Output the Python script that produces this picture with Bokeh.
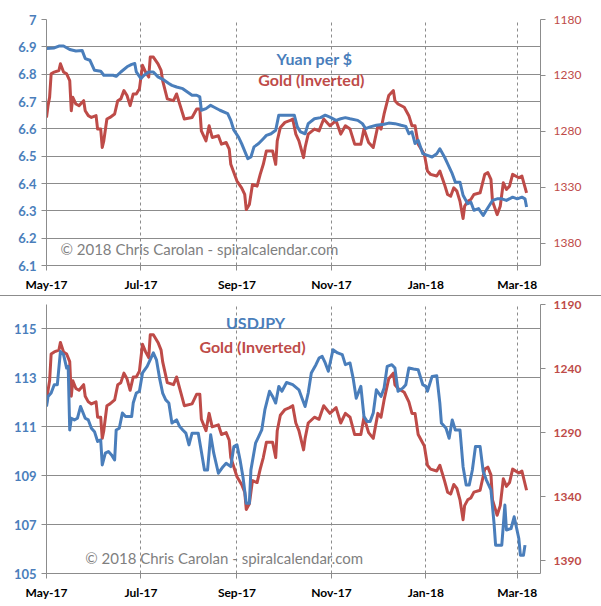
import pandas as pd
from bokeh.plotting import figure
from bokeh.models import Range1d, LinearAxis, FixedTicker, DatetimeTickFormatter, Label
from bokeh.layouts import column
from bokeh.embed import file_html
from bokeh.resources import INLINE

# ---------------- data ----------------
yuan_dates = ["2017-05-01","2017-05-06","2017-05-09","2017-05-12","2017-05-16","2017-05-20","2017-05-24","2017-05-26","2017-05-29","2017-06-01",
              "2017-06-05","2017-06-07","2017-06-13","2017-06-15","2017-06-18","2017-06-22","2017-06-25","2017-06-27","2017-06-28","2017-07-01",
              "2017-07-03","2017-07-06","2017-07-09","2017-07-12","2017-07-16","2017-07-19","2017-07-21","2017-07-24","2017-07-28","2017-07-31",
              "2017-08-03","2017-08-06","2017-08-08","2017-08-09","2017-08-12","2017-08-15","2017-08-17","2017-08-21","2017-08-26","2017-08-28",
              "2017-08-30","2017-09-02","2017-09-04","2017-09-08","2017-09-10","2017-09-12","2017-09-15","2017-09-18","2017-09-20","2017-09-23",
              "2017-09-26","2017-09-28","2017-10-08","2017-10-10","2017-10-12","2017-10-15","2017-10-17","2017-10-21","2017-10-25","2017-10-28",
              "2017-10-31","2017-11-04","2017-11-07","2017-11-10","2017-11-13","2017-11-18","2017-11-21","2017-11-23","2017-11-26","2017-11-30",
              "2017-12-05","2017-12-08","2017-12-12","2017-12-16","2017-12-19","2017-12-21","2017-12-23","2017-12-25","2017-12-27","2017-12-30",
              "2018-01-02","2018-01-05","2018-01-08","2018-01-10","2018-01-13","2018-01-15","2018-01-18","2018-01-20","2018-01-23","2018-01-25",
              "2018-01-28","2018-01-30","2018-02-01","2018-02-04","2018-02-07","2018-02-09","2018-02-13","2018-02-16","2018-02-19","2018-02-22",
              "2018-02-26","2018-03-01","2018-03-04","2018-03-06","2018-03-07"]
yuan_values = [6.894,6.896,6.903,6.903,6.890,6.885,6.887,6.857,6.851,6.814,
               6.811,6.796,6.796,6.792,6.808,6.827,6.836,6.839,6.808,6.784,
               6.796,6.808,6.808,6.790,6.778,6.766,6.759,6.753,6.747,6.735,
               6.723,6.723,6.717,6.668,6.674,6.686,6.680,6.668,6.656,6.631,
               6.595,6.570,6.546,6.491,6.497,6.534,6.546,6.564,6.576,6.582,
               6.595,6.650,6.650,6.607,6.589,6.582,6.619,6.637,6.641,6.650,
               6.643,6.631,6.637,6.641,6.637,6.631,6.619,6.601,6.607,6.613,
               6.617,6.621,6.619,6.613,6.609,6.582,6.589,6.546,6.558,6.509,
               6.503,6.497,6.509,6.527,6.497,6.473,6.436,6.405,6.405,6.357,
               6.326,6.332,6.302,6.308,6.283,6.302,6.338,6.344,6.344,6.338,
               6.350,6.344,6.350,6.344,6.314]

usdjpy_dates = ["2017-05-01","2017-05-02","2017-05-04","2017-05-06","2017-05-08","2017-05-10","2017-05-12","2017-05-14","2017-05-15","2017-05-16",
                "2017-05-17","2017-05-19","2017-05-21","2017-05-23","2017-05-26","2017-05-28","2017-05-30","2017-06-01","2017-06-03","2017-06-05",
                "2017-06-06","2017-06-08","2017-06-10","2017-06-12","2017-06-14","2017-06-15","2017-06-17","2017-06-19","2017-06-21","2017-06-25",
                "2017-06-26","2017-06-28","2017-06-30","2017-07-02","2017-07-05","2017-07-09","2017-07-11","2017-07-13","2017-07-15","2017-07-17",
                "2017-07-19","2017-07-21","2017-07-24","2017-07-26","2017-07-28","2017-07-30","2017-08-01","2017-08-03","2017-08-07","2017-08-09",
                "2017-08-11","2017-08-13","2017-08-15","2017-08-17","2017-08-20","2017-08-23","2017-08-25","2017-08-28","2017-08-30","2017-09-01",
                "2017-09-03","2017-09-05","2017-09-07","2017-09-09","2017-09-10","2017-09-13","2017-09-15","2017-09-17","2017-09-19","2017-09-22",
                "2017-09-24","2017-09-26","2017-09-28","2017-09-30","2017-10-03","2017-10-07","2017-10-11","2017-10-13","2017-10-15","2017-10-17",
                "2017-10-19","2017-10-22","2017-10-24","2017-10-26","2017-10-28","2017-10-30","2017-11-02","2017-11-05","2017-11-08","2017-11-10",
                "2017-11-13","2017-11-15","2017-11-17","2017-11-20","2017-11-22","2017-11-24","2017-11-26","2017-11-28","2017-11-30","2017-12-03",
                "2017-12-05","2017-12-07","2017-12-10","2017-12-12","2017-12-14","2017-12-17","2017-12-19","2017-12-21","2017-12-24","2017-12-27",
                "2017-12-30","2018-01-01","2018-01-02","2018-01-05","2018-01-08","2018-01-10","2018-01-11","2018-01-14","2018-01-16","2018-01-18",
                "2018-01-20","2018-01-23","2018-01-25","2018-01-27","2018-01-29","2018-01-31","2018-02-02","2018-02-05","2018-02-07","2018-02-09",
                "2018-02-12","2018-02-14","2018-02-15","2018-02-19","2018-02-21","2018-02-22","2018-02-25","2018-02-27","2018-03-02","2018-03-03",
                "2018-03-05","2018-03-06"]
usdjpy_values = [111.83,112.24,112.38,112.72,112.72,114.08,113.95,113.40,113.47,110.87,
                 111.35,111.28,111.35,111.83,111.35,111.28,110.94,110.80,110.40,110.46,
                 109.44,109.92,109.99,109.85,109.64,110.87,110.94,111.56,111.42,111.42,
                 111.97,112.38,112.45,113.20,113.47,114.02,113.74,112.99,112.38,112.10,
                 111.97,111.15,111.28,111.01,110.87,110.74,110.26,110.74,110.74,109.99,
                 109.23,109.23,110.67,109.92,109.10,109.37,109.51,109.37,110.19,110.26,
                 109.64,108.89,107.87,107.87,109.23,110.33,110.60,110.87,111.69,112.45,
                 112.24,111.97,112.65,112.45,112.81,112.72,112.51,112.17,111.83,112.38,
                 113.20,113.54,113.81,113.88,113.61,113.27,114.15,114.02,113.95,113.54,
                 113.61,112.99,112.17,112.65,111.42,111.22,111.22,111.56,112.51,112.24,
                 112.58,113.47,113.54,113.40,112.45,112.58,112.72,113.40,113.36,113.33,
                 112.72,112.65,112.45,113.06,113.09,111.97,111.15,110.94,110.53,111.28,
                 110.87,110.87,109.37,108.62,108.62,109.23,110.19,110.19,109.17,108.83,
                 108.42,107.05,106.16,106.16,107.80,106.78,106.84,107.32,106.43,105.75,
                 105.75,106.16]

gold_dates = ["2017-05-01","2017-05-02","2017-05-03","2017-05-04","2017-05-06","2017-05-09","2017-05-10","2017-05-12","2017-05-14","2017-05-16",
              "2017-05-17","2017-05-18","2017-05-20","2017-05-22","2017-05-25","2017-05-26","2017-05-28","2017-05-30","2017-06-02","2017-06-03",
              "2017-06-05","2017-06-06","2017-06-07","2017-06-09","2017-06-11","2017-06-14","2017-06-16","2017-06-18","2017-06-20","2017-06-22",
              "2017-06-24","2017-06-26","2017-06-28","2017-06-30","2017-07-02","2017-07-04","2017-07-06","2017-07-07","2017-07-09","2017-07-12",
              "2017-07-14","2017-07-15","2017-07-18","2017-07-22","2017-07-24","2017-07-27","2017-07-29","2017-08-03","2017-08-06","2017-08-08",
              "2017-08-09","2017-08-12","2017-08-14","2017-08-16","2017-08-20","2017-08-22","2017-08-25","2017-08-27","2017-08-28","2017-09-01",
              "2017-09-04","2017-09-06","2017-09-07","2017-09-09","2017-09-11","2017-09-14","2017-09-16","2017-09-18","2017-09-20","2017-09-24",
              "2017-09-26","2017-09-27","2017-09-29","2017-10-02","2017-10-05","2017-10-07","2017-10-09","2017-10-11","2017-10-14","2017-10-15",
              "2017-10-17","2017-10-21","2017-10-24","2017-10-27","2017-10-31","2017-11-04","2017-11-07","2017-11-10","2017-11-13","2017-11-16",
              "2017-11-20","2017-11-22","2017-11-25","2017-11-28","2017-12-01","2017-12-03","2017-12-05","2017-12-08","2017-12-11","2017-12-12",
              "2017-12-14","2017-12-18","2017-12-21","2017-12-23","2017-12-25","2017-12-27","2017-12-31","2018-01-02","2018-01-04","2018-01-08",
              "2018-01-10","2018-01-13","2018-01-15","2018-01-17","2018-01-19","2018-01-21","2018-01-23","2018-01-25","2018-01-26","2018-01-28",
              "2018-01-30","2018-02-01","2018-02-05","2018-02-08","2018-02-10","2018-02-12","2018-02-13","2018-02-16","2018-02-18","2018-02-20",
              "2018-02-22","2018-02-24","2018-02-26","2018-03-02","2018-03-04","2018-03-07"]
gold_values = [1267.6,1257.0,1249.6,1228.6,1227.0,1225.6,1219.6,1227.0,1228.6,1234.6,
               1261.6,1249.6,1255.6,1257.0,1252.6,1261.6,1266.0,1267.6,1266.0,1278.0,
               1278.0,1294.5,1288.5,1269.0,1267.6,1264.5,1252.6,1251.0,1243.6,1248.0,
               1257.0,1246.6,1246.6,1242.0,1221.0,1227.0,1231.5,1213.6,1213.6,1219.6,
               1225.6,1234.6,1251.0,1252.6,1246.6,1260.0,1269.0,1267.6,1260.0,1260.0,
               1279.6,1288.5,1275.0,1285.5,1284.0,1291.5,1290.0,1296.0,1309.5,1324.5,
               1330.5,1336.5,1350.0,1345.5,1327.5,1329.0,1318.5,1309.5,1297.5,1297.5,
               1309.5,1288.5,1276.5,1272.0,1270.5,1269.0,1282.5,1288.5,1303.5,1294.5,
               1282.5,1278.0,1279.6,1269.0,1275.0,1270.5,1282.5,1275.0,1278.0,1291.5,
               1291.5,1278.0,1290.0,1294.5,1275.0,1278.0,1264.5,1248.0,1243.6,1252.6,
               1255.6,1258.5,1266.0,1275.0,1275.0,1291.5,1300.5,1315.5,1318.5,1320.0,
               1315.5,1327.5,1336.5,1338.0,1330.5,1333.5,1342.5,1358.0,1347.0,1342.5,
               1341.0,1336.5,1335.0,1318.5,1317.0,1323.0,1342.5,1354.5,1347.0,1326.0,
               1332.0,1329.0,1318.5,1321.5,1320.0,1335.0]

month_ticks = ["2017-05-01","2017-07-01","2017-09-01","2017-11-01","2018-01-01","2018-03-01"]
x_start, x_end = "2017-05-01", "2018-03-16"
yuan_ticks = [6.1, 6.2, 6.3, 6.4, 6.5, 6.6, 6.7, 6.8, 6.9, 7.0]
gold_ticks_top = [1180, 1230, 1280, 1330, 1380]
usdjpy_ticks = [105, 107, 109, 111, 113, 115]
gold_ticks_bottom = [1190, 1240, 1290, 1340, 1390]

BLUE = "#4A7EBB"
RED = "#BE4B48"
GRID = "#8C8C8C"
FONT = "Lato"


def ms(d):
    return pd.Timestamp(d).value / 1e6


def build(height, left_ticks, y_lo, y_hi, gold_ticks, g_lo, g_hi, blue_dates, blue_vals,
          title_blue, title_pos_blue, title_pos_gold, wm_pos, border_top, border_bottom,
          border_right, right_bold):
    p = figure(width=601, height=height, x_axis_type="datetime",
               x_range=Range1d(ms(x_start), ms(x_end)), y_range=Range1d(y_lo, y_hi),
               output_backend="svg", toolbar_location=None,
               min_border_left=46, min_border_right=border_right,
               min_border_top=border_top, min_border_bottom=border_bottom)
    p.outline_line_color = None
    p.background_fill_color = "white"
    p.border_fill_color = "white"
    p.extra_y_ranges = {"gold": Range1d(start=g_lo, end=g_hi)}

    # x axis
    xt = FixedTicker(ticks=[ms(d) for d in month_ticks])
    p.xaxis.ticker = xt
    p.xaxis.formatter = DatetimeTickFormatter(days="%b-%y", months="%b-%y", years="%b-%y")
    p.xgrid.ticker = xt
    p.xgrid.grid_line_color = GRID
    p.xgrid.grid_line_dash = "3 3"
    p.xgrid.grid_line_width = 1
    xa = p.xaxis[0]
    xa.axis_line_color = GRID
    xa.major_tick_line_color = GRID
    xa.major_tick_out = 5
    xa.major_tick_in = 0
    xa.minor_tick_line_color = None
    xa.major_label_standoff = 6
    xa.major_label_text_font = FONT
    xa.major_label_text_font_style = "bold"
    xa.major_label_text_font_size = "12px"
    xa.major_label_text_color = "black"

    # left axis
    yt = FixedTicker(ticks=left_ticks)
    ya = p.left[0]
    ya.ticker = yt
    p.ygrid.ticker = yt
    p.ygrid.grid_line_color = GRID
    p.ygrid.grid_line_width = 1
    ya.axis_line_color = GRID
    ya.major_tick_line_color = GRID
    ya.major_tick_out = 5
    ya.major_tick_in = 0
    ya.minor_tick_line_color = None
    ya.major_label_standoff = 5
    ya.major_label_text_font = FONT
    ya.major_label_text_font_style = "bold"
    ya.major_label_text_font_size = "13px"
    ya.major_label_text_color = BLUE
    ya.major_label_overrides = {7: "7"}

    # right axis (gold, inverted)
    ra = LinearAxis(y_range_name="gold", ticker=FixedTicker(ticks=gold_ticks))
    ra.axis_line_color = GRID
    ra.major_tick_line_color = GRID
    ra.major_tick_out = 5
    ra.major_tick_in = 0
    ra.minor_tick_line_color = None
    ra.major_label_standoff = 8
    ra.major_label_text_font = FONT
    ra.major_label_text_font_style = "bold" if right_bold else "normal"
    ra.major_label_text_font_size = "12px"
    ra.major_label_text_color = RED
    p.add_layout(ra, "right")

    # lines
    p.line(pd.to_datetime(gold_dates), gold_values, y_range_name="gold",
           line_color=RED, line_width=3, line_join="round")
    p.line(pd.to_datetime(blue_dates), blue_vals,
           line_color=BLUE, line_width=3, line_join="round")

    # texts
    p.add_layout(Label(x=ms(title_pos_blue[0]), y=title_pos_blue[1], text=title_blue,
                       text_align="center", text_baseline="middle", text_font=FONT,
                       text_font_style="bold", text_font_size="16px", text_color=BLUE))
    p.add_layout(Label(x=ms(title_pos_gold[0]), y=title_pos_gold[1], text="Gold (Inverted)",
                       text_align="center", text_baseline="middle", text_font=FONT,
                       text_font_style="bold", text_font_size="16px", text_color=RED))
    p.add_layout(Label(x=ms(wm_pos[0]), y=wm_pos[1], text="\u00a9 2018 Chris Carolan - spiralcalendar.com",
                       text_align="left", text_baseline="middle", text_font=FONT,
                       text_font_size="15px", text_color="#7F7F7F"))
    return p


p1 = build(295, yuan_ticks, 6.1, 7.0, gold_ticks_top, 1400, 1180, yuan_dates, yuan_values,
           "Yuan per $", ("2017-10-21", 6.857), ("2017-10-19", 6.78), ("2017-05-10", 6.162),
           19, 30, 61, False)
p2 = build(310, usdjpy_ticks, 105, 116, gold_ticks_bottom, 1400, 1190, usdjpy_dates, usdjpy_values,
           "USDJPY", ("2017-09-13", 115.25), ("2017-09-11", 114.3), ("2017-05-26", 105.63),
           8, 33, 59, True)
p2.styles = {"border-top": "1px solid #8C8C8C"}

layout = column(p1, p2, spacing=0)
open("out.html", "w").write(file_html(layout, INLINE))
